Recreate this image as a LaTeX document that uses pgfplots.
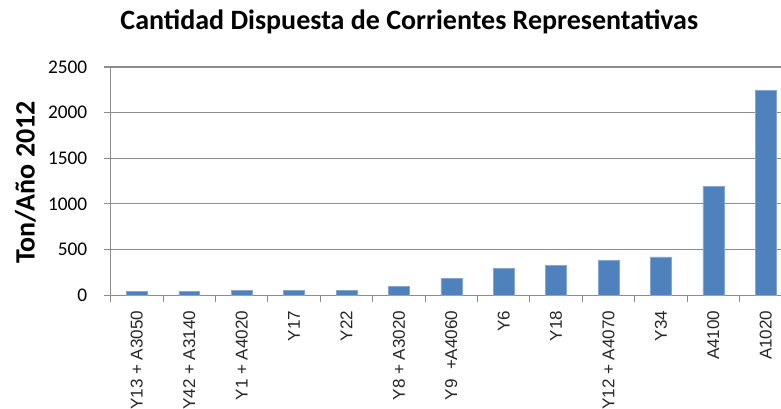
\documentclass[border=0pt]{standalone}
\usepackage{fontspec}
\setmainfont{Liberation Sans}
\newfontfamily\calibri{Carlito}
\usepackage{pgfplots}
\pgfplotsset{compat=1.18}
\definecolor{barblue}{HTML}{4F81BD}
\definecolor{gridgray}{HTML}{8C8C8C}
\begin{document}
\begin{tikzpicture}
\useasboundingbox (0,0) rectangle (585.75pt,306.75pt);
\begin{axis}[
  at={(83pt,85.3pt)}, anchor=south west,
  scale only axis,
  width=502.7pt, height=171.2pt,
  xmin=-0.5, xmax=12.29,
  ymin=0, ymax=2500,
  ytick={0,500,...,2500},
  xtick={0,...,12},
  xticklabels={Y13 + A3050, Y42 + A3140, Y1 + A4020, Y17, Y22, Y8 + A3020, Y9 \ +A4060, Y6, Y18, Y12 + A4070, Y34, A4100, A1020},
  x tick label style={rotate=90, anchor=east, font=\fontsize{12.8}{14}\selectfont, text=black!85},
  xticklabel shift=3pt,
  y tick label style={font=\calibri\fontsize{14.5}{16}\selectfont},
  yticklabel shift=9pt,
  major x tick style={draw=none},
  minor xtick={-0.5,0.5,...,11.5},
  minor tick length=5pt,
  major tick length=5pt,
  tick align=outside,
  xtick pos=bottom, ytick pos=left,
  ymajorgrids=true,
  grid style={gridgray, line width=0.8pt},
  axis x line*=bottom, axis y line*=left,
  axis line style={gridgray, line width=0.8pt},
  tick style={gridgray, line width=0.8pt},
  /pgf/number format/assume math mode=true,
  /pgf/number format/1000 sep={},
  ybar, bar width=0.4, bar shift=0pt,
  clip=false,
]
\addplot[fill=barblue, draw=barblue!70!white, line width=0.4pt]
coordinates {(0,39) (1,39) (2,55) (3,55) (4,55) (5,94) (6,181) (7,291) (8,331) (9,381) (10,421) (11,1195) (12,2240)};
\end{axis}
\node[font=\calibri\bfseries\fontsize{21}{24}\selectfont] at (307pt,290pt) {Cantidad Dispuesta de Corrientes Representativas};
\node[font=\calibri\bfseries\fontsize{21}{24}\selectfont, rotate=90] at (19pt,170pt) {Ton/Año 2012};
\end{tikzpicture}
\end{document}
